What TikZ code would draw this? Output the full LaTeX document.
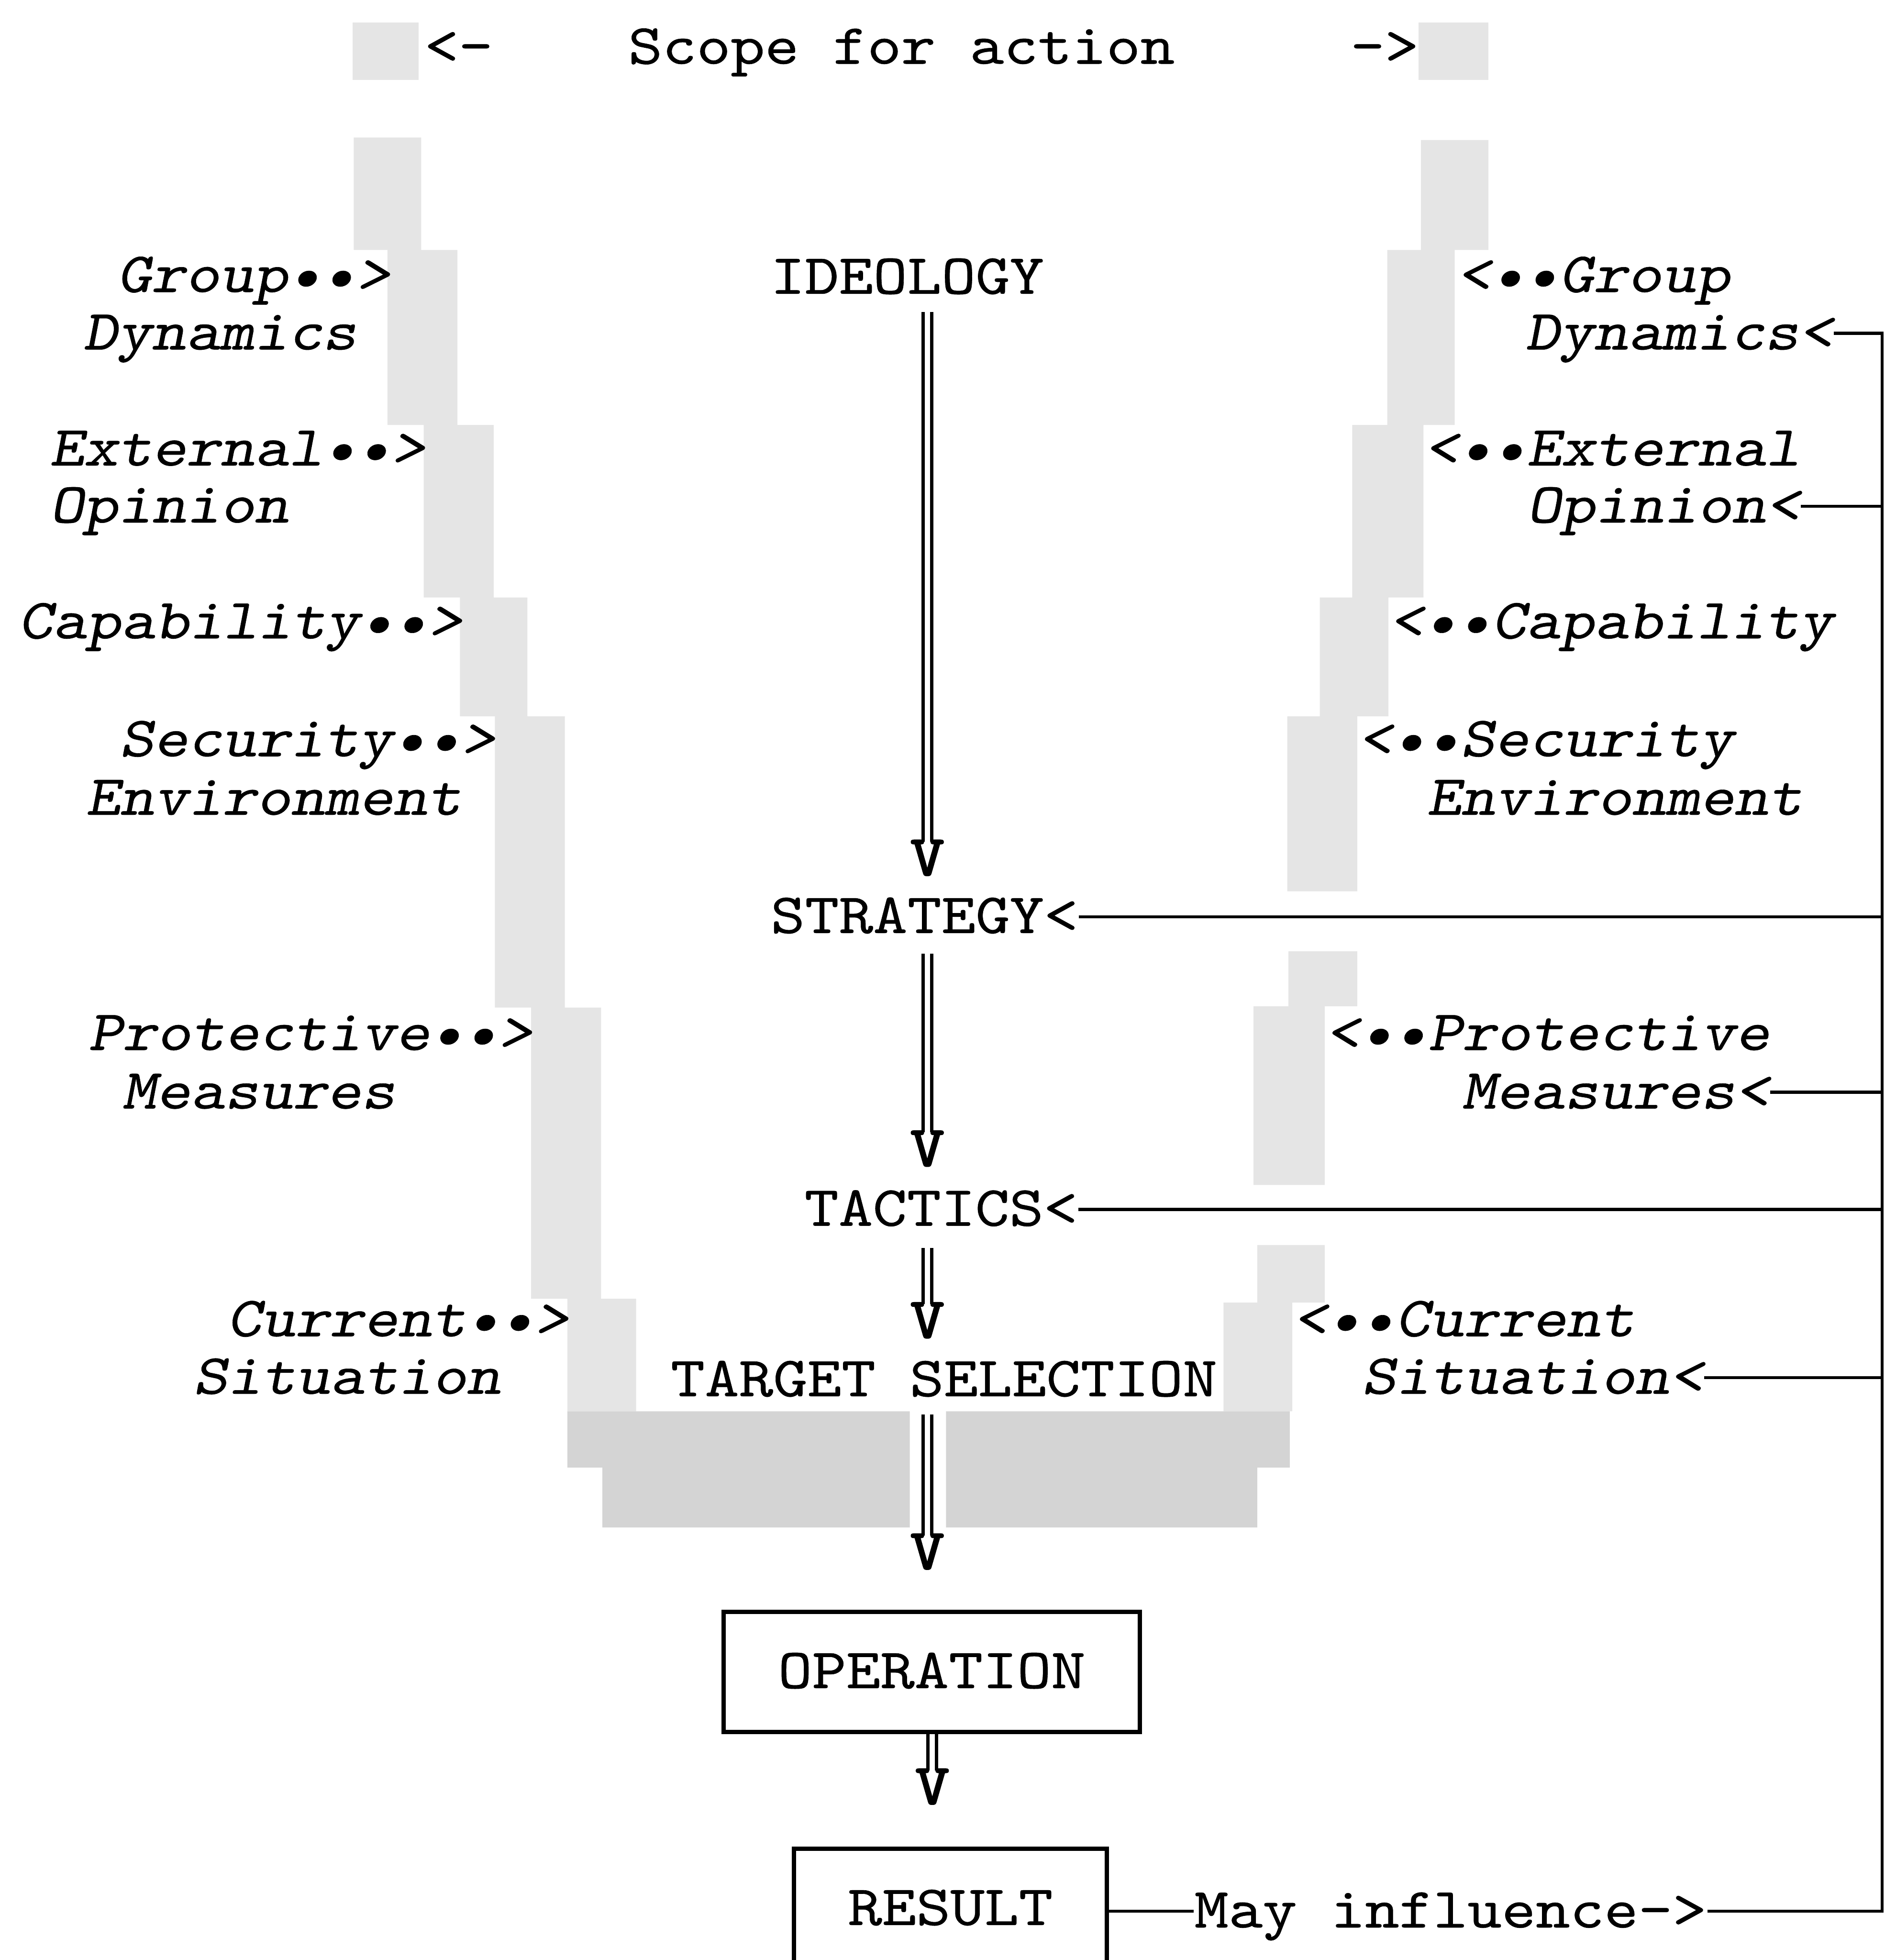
\documentclass[tikz,border=0pt]{standalone}
\usepackage{fontspec}
\setmonofont{lmmono10-regular.otf}[ItalicFont=lmmonoslant10-regular.otf, BoldFont=lmmono10-regular.otf, BoldFeatures={FakeBold=2.5}, FakeStretch=1.143, FakeBold=0.5]
\usetikzlibrary{positioning, calc}
\definecolor{screen}{gray}{0.9}
\definecolor{screendark}{gray}{0.83}

\tikzset{
  typed/.style={inner sep=0pt, text height=0.26cm, text depth=0pt, font=\ttfamily\fontsize{12.95}{15}\selectfont},
  slanted/.style={typed, font=\ttfamily\fontsize{12.95}{15}\selectfont\itshape},
  vtip/.style={typed, anchor=base, font=\ttfamily\fontsize{12.95}{15}\selectfont\bfseries},
  framed/.style={typed, draw, line width=1pt, minimum height=0.96cm},
  dbl/.style={double, double distance=1.2pt, line width=0.75pt},
  feed/.style={line width=0.7pt}
}

\begin{document}
\begin{tikzpicture}[x=0.01cm, y=-0.01cm]
  \useasboundingbox (0,0) rectangle (1508,1568);
  % shaded scope for action
  \fill[screen] (282,18) rectangle (335,64);
  \fill[screen] (1135,18) rectangle (1191,64);
  \fill[screen] (283,110) -- (337,110) -- (337,200) -- (366,200) -- (366,340) -- (395,340)
    -- (395,478) -- (422,478) -- (422,573) -- (452,573) -- (452,806) -- (481,806)
    -- (481,1039) -- (509,1039) -- (509,1129) -- (454,1129) -- (454,1039) -- (425,1039)
    -- (425,806) -- (396,806) -- (396,573) -- (368,573) -- (368,478) -- (339,478)
    -- (339,340) -- (310,340) -- (310,200) -- (283,200) -- cycle;
  \fill[screen] (1137,112) -- (1191,112) -- (1191,200) -- (1164,200) -- (1164,340) -- (1139,340)
    -- (1139,478) -- (1111,478) -- (1111,573) -- (1086,573) -- (1086,713) -- (1030,713)
    -- (1030,573) -- (1056,573) -- (1056,478) -- (1082,478) -- (1082,340) -- (1110,340)
    -- (1110,200) -- (1137,200) -- cycle;
  \fill[screen] (1031,761) -- (1086,761) -- (1086,805) -- (1060,805) -- (1060,948)
    -- (1003,948) -- (1003,805) -- (1031,805) -- cycle;
  \fill[screen] (1006,996) -- (1060,996) -- (1060,1042) -- (1034,1042) -- (1034,1129)
    -- (979,1129) -- (979,1042) -- (1006,1042) -- cycle;
  \fill[screendark] (454,1129) -- (728,1129) -- (728,1222) -- (482,1222) -- (482,1174) -- (454,1174) -- cycle;
  \fill[screendark] (757,1129) -- (1032,1129) -- (1032,1174) -- (1006,1174) -- (1006,1222) -- (757,1222) -- cycle;

  % heading
  \node[typed, anchor=base west] (lscope) at (339,51) {<-};
  \node[typed, anchor=base west] (scope) at (502,51) {Scope for action};
  \node[typed, anchor=base east] (rscope) at (1136,51) {->};

  % left influences
  \node[slanted, anchor=base west] (grpL) at (93,233.6) {Group••>};
  \node[slanted, anchor=base west] (dynL) at (66,279.6) {Dynamics};
  \node[slanted, anchor=base west] (extL) at (39,372.4) {External••>};
  \node[slanted, anchor=base west] (opiL) at (39,418) {Opinion};
  \node[slanted, anchor=base west] (capL) at (14,510.7) {Capability••>};
  \node[slanted, anchor=base west] (secL) at (95,605) {Security••>};
  \node[slanted, anchor=base west] (envL) at (68,651.8) {Environment};
  \node[slanted, anchor=base west] (proL) at (70,840) {Protective••>};
  \node[slanted, anchor=base west] (meaL) at (97,886.8) {Measures};
  \node[slanted, anchor=base west] (curL) at (181,1069) {Current••>};
  \node[slanted, anchor=base west] (sitL) at (154,1115) {Situation};

  % right influences
  \node[slanted, anchor=base west] (grpR) at (1165,233.6) {<••Group};
  \node[slanted, anchor=base west] (dynR) at (1220,279.6) {Dynamics<};
  \node[slanted, anchor=base west] (extR) at (1139,372.4) {<••External};
  \node[slanted, anchor=base west] (opiR) at (1221,418) {Opinion<};
  \node[slanted, anchor=base west] (capR) at (1111,510.7) {<••Capability};
  \node[slanted, anchor=base west] (secR) at (1086,605) {<••Security};
  \node[slanted, anchor=base west] (envR) at (1141,651.8) {Environment};
  \node[slanted, anchor=base west] (proR) at (1060,840) {<••Protective};
  \node[slanted, anchor=base west] (meaR) at (1169,886.8) {Measures<};
  \node[slanted, anchor=base west] (curR) at (1034,1069) {<••Current};
  \node[slanted, anchor=base west] (sitR) at (1089,1115) {Situation<};

  % main chain
  \node[typed, anchor=base west] (ideo) at (616,235) {IDEOLOGY};
  \node[typed, anchor=base west] (strat) at (616,746.4) {STRATEGY<};
  \node[typed, anchor=base west] (tact) at (643,980.6) {TACTICS<};
  \node[typed, anchor=base west] (target) at (536,1117) {TARGET SELECTION};
  \node[framed, minimum width=3.33cm] (oper) at (745.5,1337.5) {OPERATION};
  \node[framed, minimum width=2.5cm] (res) at (760.5,1527) {RESULT};
  \node[typed, anchor=base west] (may) at (955,1542) {May influence->};

  \node[vtip] (v1) at (742,700) {V};
  \node[vtip] (v2) at (742,932.6) {V};
  \node[vtip] (v3) at (742,1070) {V};
  \node[vtip] (v4) at (742,1255) {V};
  \node[vtip] (v5) at (746,1443) {V};

  \draw[dbl, shorten <=0.14cm] (ideo.south -| v1.north) -- (v1.north);
  \draw[dbl, shorten <=0.16cm] (strat.south -| v2.north) -- (v2.north);
  \draw[dbl, shorten <=0.17cm] (tact.south -| v3.north) -- (v3.north);
  \draw[dbl, shorten <=0.14cm] (target.south -| v4.north) -- (v4.north);
  \draw[dbl] (oper.south -| v5.north) -- (v5.north);

  % feedback bus
  \coordinate (bus) at (1506,0);
  \draw[feed] (dynR.east) -- (dynR.east -| bus) -- (may.east -| bus) -- (may.east);
  \foreach \n in {opiR, strat, meaR, tact, sitR}
    \draw[feed] (\n.east) -- (\n.east -| bus);
  \draw[feed] (res.east |- may.west) -- (may.west);
\end{tikzpicture}
\end{document}
